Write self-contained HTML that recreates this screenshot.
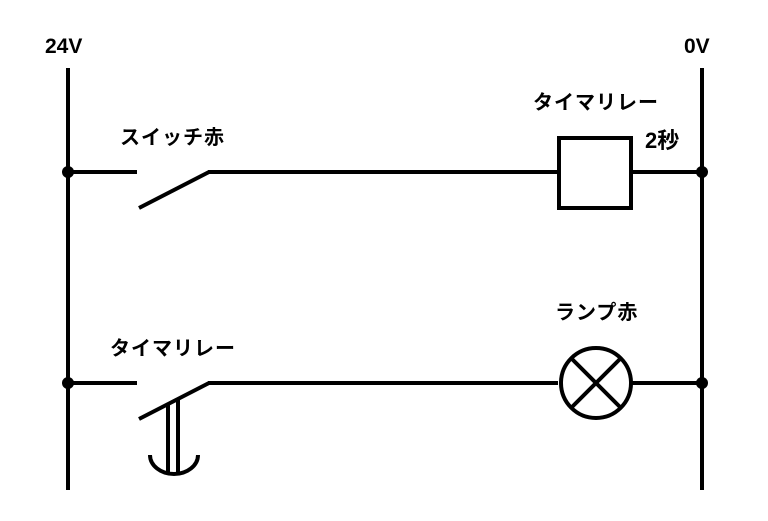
<!DOCTYPE html>
<html><head><meta charset="utf-8"><style>
html,body{margin:0;padding:0;background:#fff;width:768px;height:521px;overflow:hidden}
svg text{font-family:"Liberation Sans","Noto Sans CJK JP",sans-serif;font-weight:bold;fill:#000}
</style></head><body>
<svg width="768" height="521" viewBox="0 0 768 521" xmlns="http://www.w3.org/2000/svg">
<g stroke="#000" stroke-width="4" fill="none">
<line x1="68" y1="68" x2="68" y2="490"/>
<line x1="702" y1="68" x2="702" y2="490"/>
<line x1="68" y1="172" x2="137" y2="172"/>
<line x1="139" y1="208" x2="209" y2="172"/>
<line x1="208" y1="172" x2="558" y2="172"/>
<rect x="559" y="138" width="72" height="70"/>
<line x1="632" y1="172" x2="702" y2="172"/>
<line x1="68" y1="383" x2="137" y2="383"/>
<line x1="139" y1="419" x2="209" y2="383"/>
<line x1="208" y1="383" x2="558" y2="383"/>
<line x1="632" y1="383" x2="702" y2="383"/>
<circle cx="596" cy="383" r="35"/>
<line x1="571" y1="358" x2="621" y2="408"/>
<line x1="621" y1="358" x2="571" y2="408"/>
<line x1="168" y1="403" x2="168" y2="472"/>
<line x1="178" y1="399" x2="178" y2="472"/>
<path d="M150 455 A24 19 0 0 0 198 455"/>
</g>
<g fill="#000">
<circle cx="68" cy="172" r="6"/><circle cx="702" cy="172" r="6"/>
<circle cx="68" cy="383" r="6"/><circle cx="702" cy="383" r="6"/>
</g>
<text x="45" y="53" font-size="21">24V</text>
<text x="684" y="53" font-size="21">0V</text>
<text x="533" y="109" font-size="20" letter-spacing="1">タイマリレー</text>
<text x="645" y="148" font-size="22">2秒</text>
<text x="120" y="144" font-size="20" letter-spacing="1">スイッチ赤</text>
<text x="555" y="319" font-size="20" letter-spacing="1">ランプ赤</text>
<text x="110" y="355" font-size="20" letter-spacing="1">タイマリレー</text>
</svg>
</body></html>
